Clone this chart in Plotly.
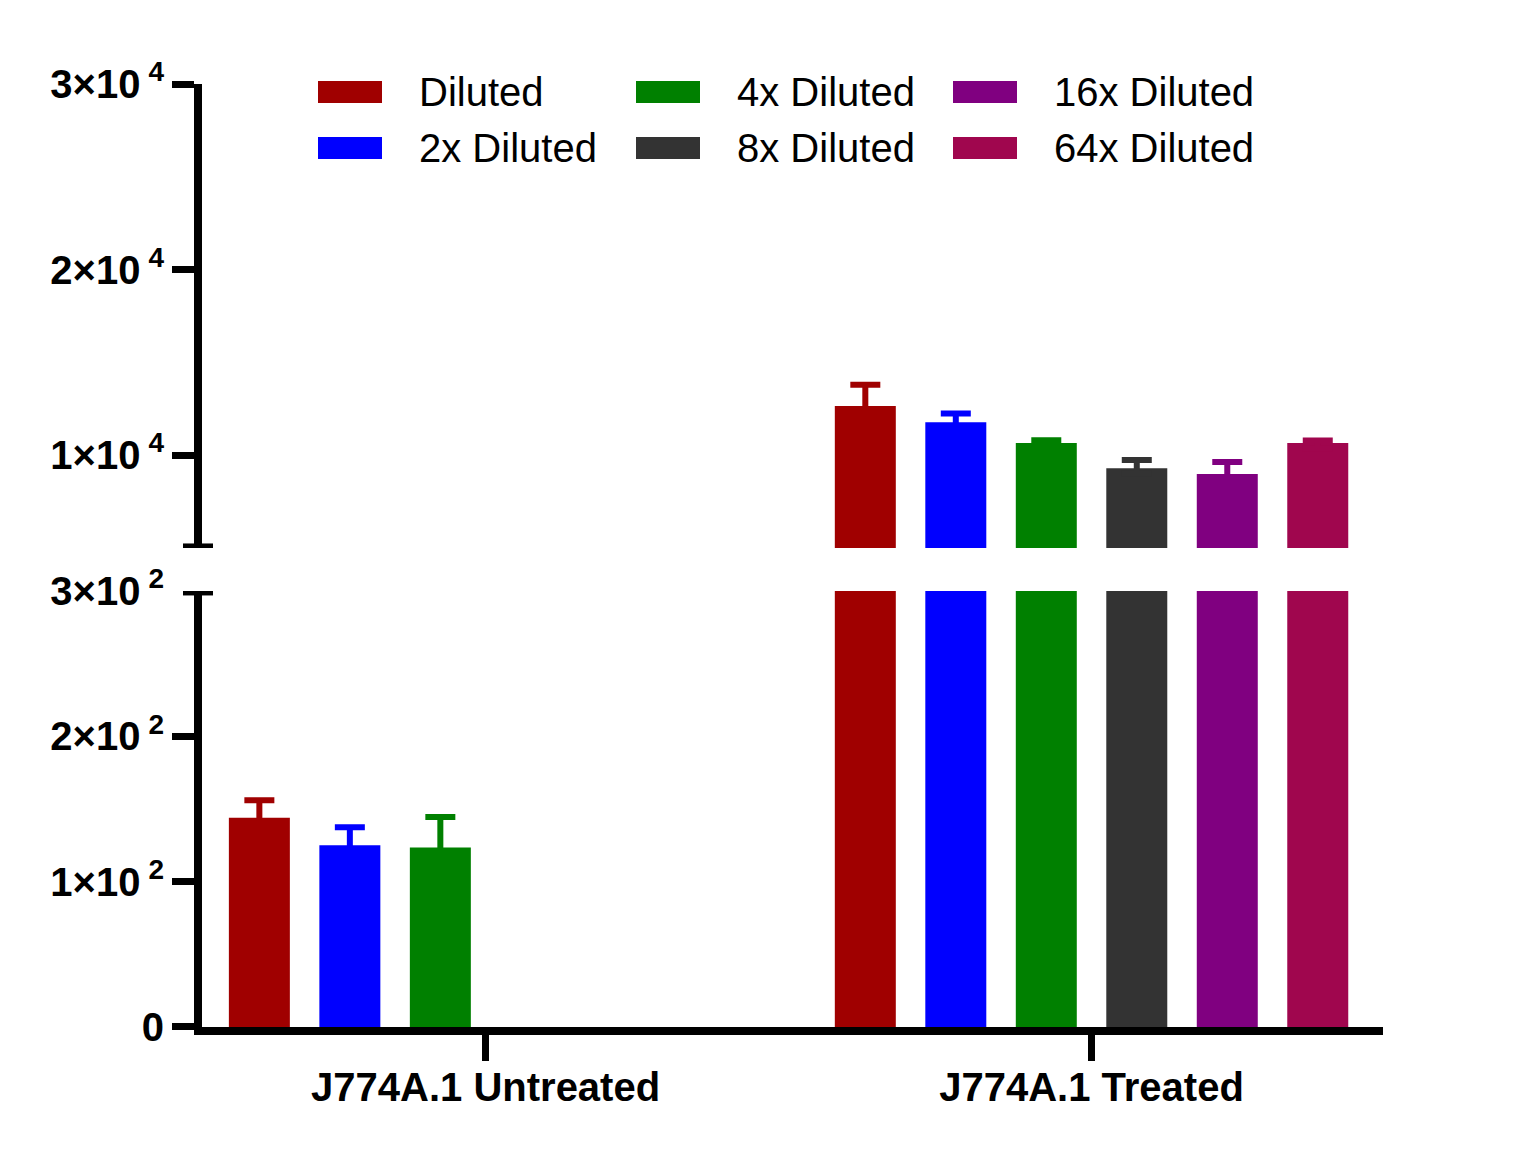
import plotly.graph_objects as go

# ---------------- data ----------------
categories = ["J774A.1 Untreated", "J774A.1 Treated"]
series_names = ["Diluted", "2x Diluted", "4x Diluted", "8x Diluted", "16x Diluted", "64x Diluted"]
colors = ["#A00000", "#0000FF", "#008000", "#333333", "#800080", "#A0064E"]

untreated_means = [144, 125, 123.5, None, None, None]
untreated_err = [12, 12.5, 21, None, None, None]
treated_means = [12650, 11770, 10650, 9300, 8990, 10650]
treated_err = [1150, 480, 160, 440, 640, 140]

low_ticks = [0, 100, 200]
low_ticktext = ["0", "1×10\u2009<sup>2</sup>", "2×10\u2009<sup>2</sup>"]
low_top_tick = [300]
low_top_text = ["3×10\u2009<sup>2</sup>"]
high_ticks = [10000, 20000, 30000]
high_ticktext = ["1×10\u2009<sup>4</sup>", "2×10\u2009<sup>4</sup>", "3×10\u2009<sup>4</sup>"]

# small downward shift (data units, per category panel) so that the lower
# end of each one-sided error bar is hidden inside its own bar
hide_shift = [4, 300]

# ---------------- figure ----------------
FONT = "Liberation Sans, Arial, sans-serif"
W, H = 1517, 1150
ML, MR, MT, MB = 202, 134, 84, 123
PW, PH = W - ML - MR, H - MT - MB

fig = go.Figure()
for i, name in enumerate(series_names):
    yv = [untreated_means[i], treated_means[i]]
    ev = [untreated_err[i], treated_err[i]]
    y_err_base = [None if m is None else m - s for m, s in zip(yv, hide_shift)]
    e_plus = [None if e is None else e + s for e, s in zip(ev, hide_shift)]
    for ax in ["y", "y2"]:
        fig.add_trace(go.Bar(
            x=categories, y=yv, name=name, yaxis=ax, showlegend=False,
            offsetgroup=str(i),
            marker=dict(color=colors[i], line=dict(width=0)),
        ))
        fig.add_trace(go.Bar(
            x=categories, y=y_err_base, name=name + " SD", yaxis=ax, showlegend=False,
            offsetgroup=str(i), hoverinfo="skip",
            marker=dict(color="rgba(0,0,0,0)", line=dict(width=0)),
            error_y=dict(type="data", array=e_plus, arrayminus=[0, 0], symmetric=False,
                         color=colors[i], thickness=6, width=15),
        ))

axis_common = dict(showline=True, linewidth=8, linecolor="black", showgrid=False,
                   zeroline=False, ticks="outside", ticklen=22, tickwidth=7,
                   tickcolor="black",
                   tickfont=dict(family=FONT, size=40, color="black", weight="bold"))

fig.update_layout(
    width=W, height=H,
    margin=dict(l=ML, r=MR, t=MT, b=MB),
    paper_bgcolor="white", plot_bgcolor="white",
    barmode="group", bargap=0.104, bargroupgap=0.326,
    showlegend=False,
    xaxis=dict(type="category", range=[-0.468, 1.481], anchor="y",
               ticklabelstandoff=-8,
               **{**axis_common, "ticklen": 26,
                  "tickfont": dict(family=FONT, size=40, color="black", weight="bold")}),
    yaxis=dict(domain=[0, 0.4624], range=[0, 300], anchor="x",
               tickmode="array", tickvals=low_ticks, ticktext=low_ticktext, **axis_common),
    yaxis3=dict(overlaying="y", range=[0, 300], anchor="x", side="left",
                tickmode="array", tickvals=low_top_tick, ticktext=low_top_text,
                ticks="", showline=False, showgrid=False, zeroline=False,
                ticklabelstandoff=37,
                tickfont=dict(family=FONT, size=40, color="black", weight="bold")),
    yaxis2=dict(domain=[0.508, 1], range=[5000, 30000], anchor="x",
                tickmode="array", tickvals=high_ticks, ticktext=high_ticktext, **axis_common),
)

# dummy trace so yaxis3 is drawn
fig.add_trace(go.Scatter(x=[categories[0]], y=[None], yaxis="y3", showlegend=False,
                         hoverinfo="skip"))

# broken-axis caps
shapes = [
    dict(type="line", xref="paper", xsizemode="pixel", xanchor=0, x0=-19, x1=11,
         yref="y2", y0=5000, y1=5000, line=dict(color="black", width=9)),
    dict(type="line", xref="paper", xsizemode="pixel", xanchor=0, x0=-19, x1=11,
         yref="y", y0=300, y1=300, line=dict(color="black", width=9)),
]

# legend (3 columns x 2 rows, column-major)
def px_x(px):
    return (px - ML) / PW

def px_y(py):
    return (H - MB - py) / PH

sw_left = [318, 636, 953]
txt_left = [417, 735, 1052]
row_c = [92, 148]
annotations = []
for i, name in enumerate(series_names):
    c, r = i // 2, i % 2
    shapes.append(dict(type="rect", xref="paper", yref="paper",
                       x0=px_x(sw_left[c]), x1=px_x(sw_left[c] + 64),
                       y0=px_y(row_c[r] + 11), y1=px_y(row_c[r] - 11),
                       fillcolor=colors[i], line=dict(width=0)))
    annotations.append(dict(text=name, xref="paper", yref="paper",
                            x=px_x(txt_left[c]), y=px_y(row_c[r]),
                            xanchor="left", yanchor="middle", showarrow=False,
                            font=dict(family=FONT, size=40, color="black")))

fig.update_layout(shapes=shapes, annotations=annotations)
fig.write_html("out.html")
